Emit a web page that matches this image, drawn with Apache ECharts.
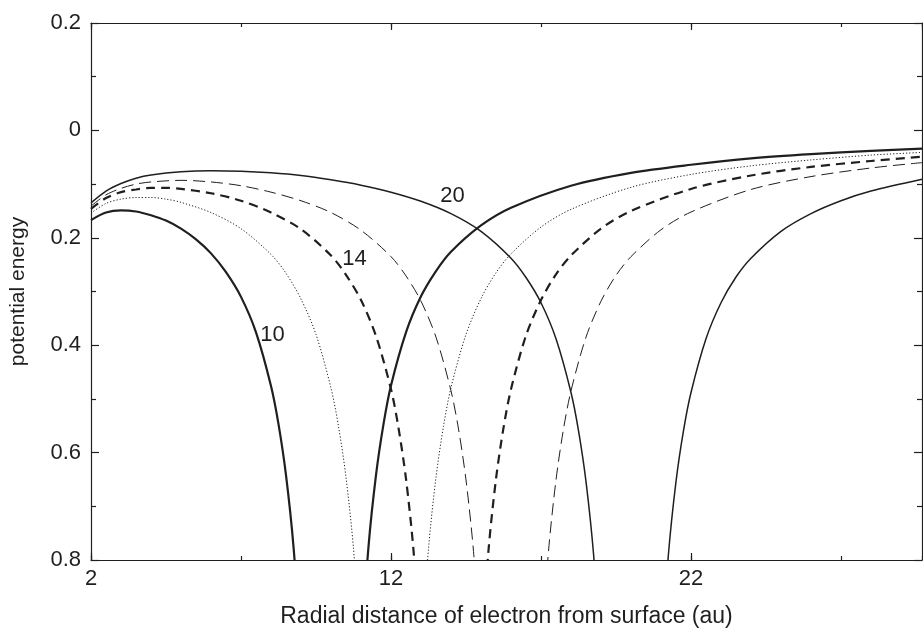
<!DOCTYPE html>
<html><head><meta charset="utf-8">
<script src="https://cdn.jsdelivr.net/npm/echarts/dist/echarts.min.js"></script>
<style>html,body{margin:0;padding:0;background:#fff}#c{width:923px;height:633px}</style>
</head><body><div id="c"></div><script>
// ---- data (x = radial distance, y = potential energy) ----
const xTicks = [2, 12, 22];
const yTickLabels = ['0.2', '0', '0.2', '0.4', '0.6', '0.8'];

const d10Left = [[2,-0.167],[2.5,-0.153],[3,-0.149],[3.5,-0.151],[4,-0.158],[4.5,-0.168],[5,-0.183],[5.5,-0.203],[6,-0.229],[6.5,-0.264],[7,-0.310],[7.5,-0.376],[8,-0.476],[8.25,-0.547],[8.5,-0.642],[8.75,-0.775],[9,-0.975]];
const d10Right = [[11,-0.975],[11.25,-0.775],[11.5,-0.642],[11.75,-0.547],[12,-0.475],[12.5,-0.376],[13,-0.309],[13.5,-0.262],[14,-0.226],[15,-0.177],[16,-0.144],[18,-0.103],[20,-0.079],[22,-0.064],[24,-0.052],[26,-0.044],[28,-0.038],[29.7,-0.034]];

const d12Left = [[2,-0.154],[2.5,-0.136],[3,-0.128],[3.5,-0.125],[4,-0.125],[4.5,-0.128],[5,-0.134],[6,-0.153],[7,-0.183],[8,-0.231],[8.5,-0.266],[9,-0.314],[9.5,-0.380],[10,-0.480],[10.25,-0.551],[10.5,-0.646],[10.75,-0.779],[11,-0.979]];
const d12Right = [[13,-0.979],[13.25,-0.779],[13.5,-0.646],[13.75,-0.551],[14,-0.479],[14.5,-0.380],[15,-0.313],[15.5,-0.265],[16,-0.230],[17,-0.180],[18,-0.147],[20,-0.106],[22,-0.082],[24,-0.066],[26,-0.055],[28,-0.046],[29.7,-0.041]];

const d14Left = [[2,-0.146],[2.5,-0.126],[3,-0.115],[3.5,-0.110],[4,-0.107],[4.5,-0.107],[5,-0.109],[6,-0.117],[7,-0.131],[8,-0.153],[9,-0.184],[10,-0.233],[10.5,-0.269],[11,-0.316],[11.5,-0.383],[12,-0.482],[12.25,-0.554],[12.5,-0.649],[12.75,-0.782],[13,-0.982]];
const d14Right = [[15,-0.982],[15.25,-0.782],[15.5,-0.649],[15.75,-0.554],[16,-0.482],[16.5,-0.382],[17,-0.316],[17.5,-0.268],[18,-0.233],[19,-0.183],[20,-0.150],[22,-0.109],[24,-0.084],[26,-0.068],[28,-0.057],[29.7,-0.049]];

const d16Left = [[2,-0.141],[2.5,-0.120],[3,-0.108],[3.5,-0.100],[4,-0.096],[5,-0.093],[6,-0.096],[7,-0.103],[8,-0.115],[9,-0.131],[10,-0.153],[11,-0.186],[12,-0.235],[12.5,-0.271],[13,-0.318],[13.5,-0.385],[14,-0.485],[14.25,-0.556],[14.5,-0.651],[14.75,-0.784],[15,-0.984]];
const d16Right = [[17,-0.984],[17.25,-0.784],[17.5,-0.651],[17.75,-0.556],[18,-0.485],[18.5,-0.385],[19,-0.318],[19.5,-0.270],[20,-0.235],[21,-0.185],[22,-0.152],[24,-0.110],[26,-0.086],[28,-0.070],[29.7,-0.060]];

const d20Left = [[2,-0.135],[2.5,-0.113],[3,-0.099],[3.5,-0.089],[4,-0.083],[5,-0.077],[6,-0.075],[7,-0.076],[8,-0.079],[9,-0.084],[10,-0.092],[11,-0.102],[12,-0.115],[13,-0.132],[14,-0.155],[15,-0.188],[16,-0.238],[16.5,-0.274],[17,-0.321],[17.5,-0.388],[18,-0.488],[18.25,-0.559],[18.5,-0.654],[18.75,-0.788],[19,-0.988]];
const d20Right = [[21,-0.988],[21.25,-0.788],[21.5,-0.654],[21.75,-0.559],[22,-0.488],[22.5,-0.388],[23,-0.321],[23.5,-0.273],[24,-0.238],[25,-0.188],[26,-0.155],[27,-0.131],[28,-0.113],[29.7,-0.091]];

// curve annotations: [x, y, text]
const curveLabels = [[8.05,-0.380,'10'],[10.78,-0.240,'14'],[14.05,-0.122,'20']];

// ---- chart ----
const FONT = '"Liberation Sans", Arial, Helvetica, sans-serif';
const INK = '#1f1f1f';
const chart = echarts.init(document.getElementById('c'), null, {renderer:'canvas'});

const styles = {
  s10: {color:INK, width:2.2, type:'solid'},
  s12: {color:INK, width:1, type:[1.2,2]},
  s14: {color:INK, width:2.2, type:[9,6]},
  s16: {color:INK, width:1, type:[12,6]},
  s20: {color:INK, width:1.5, type:'solid'}
};
function line(data, st){
  return {type:'line', data, xAxisIndex:0, yAxisIndex:0, showSymbol:false, symbol:'none',
    smooth:0.3, clip:true, lineStyle:st, silent:true, z:3};
}
const xMin = xTicks[0], xMax = 29.7;
function xAx(pos, interval, len, showLine, labels, name){
  const a = {type:'value', position:pos, min:xMin, max:xMax, interval:interval,
    axisLine:{show:showLine, onZero:false, lineStyle:{color:INK, width:1.2}},
    axisTick:{show:true, inside:true, length:len, lineStyle:{color:INK, width:1.2}},
    axisLabel:{show:labels, fontSize:22, color:INK, fontFamily:FONT, margin:8, showMaxLabel:false,
      formatter: v => (xTicks.indexOf(Math.round(v)) >= 0 && Math.abs(v-Math.round(v))<1e-6) ? String(Math.round(v)) : ''},
    splitLine:{show:false}};
  if (name){ a.name = name; a.nameLocation='middle'; a.nameGap=45;
    a.nameTextStyle={fontSize:23, color:INK, fontFamily:FONT}; }
  return a;
}
function yAx(pos, labels, name){
  const a = {type:'value', position:pos, min:-0.8, max:0.2, interval:0.2,
    axisLine:{show:true, onZero:false, lineStyle:{color:INK, width:1.2}},
    axisTick:{show:true, inside:true, length:8, lineStyle:{color:INK, width:1.2}},
    minorTick:{show:true, splitNumber:2, length:5, lineStyle:{color:INK, width:1.2}},
    axisLabel:{show:labels, fontSize:22, color:INK, fontFamily:FONT, margin:10,
      formatter: v => { const i = Math.round((0.2 - v)/0.2); return yTickLabels[i] ?? ''; }},
    splitLine:{show:false}};
  if (name){ a.name=name; a.nameLocation='middle'; a.nameGap=62; a.nameRotate=90;
    a.nameTextStyle={fontSize:21, color:INK, fontFamily:FONT}; }
  return a;
}

const option = {
  animation:false,
  backgroundColor:'#fff',
  grid:{left:82, right:1, top:23, bottom:59, containLabel:false},
  xAxis:[
    xAx('bottom', 10, 7, true, true, 'Radial distance of electron from surface (au)'),
    xAx('bottom', 5, 4, false, false),
    xAx('top', 10, 7, true, false),
    xAx('top', 5, 4, false, false)
  ],
  yAxis:[ yAx('left', true, 'potential energy'), yAx('right', false) ],
  series:[
    line(d10Left, styles.s10), line(d10Right, styles.s10),
    line(d12Left, styles.s12), line(d12Right, styles.s12),
    line(d14Left, styles.s14), line(d14Right, styles.s14),
    line(d16Left, styles.s16), line(d16Right, styles.s16),
    line(d20Left, styles.s20), line(d20Right, styles.s20),
    {type:'scatter', xAxisIndex:0, yAxisIndex:0, data:curveLabels, symbolSize:1,
     itemStyle:{color:'transparent', opacity:1}, silent:true, z:5,
     label:{show:true, position:'inside', formatter:p=>p.data[2], fontSize:22, color:INK,
       textBorderWidth:0, fontFamily:FONT}}
  ]
};
chart.setOption(option);
</script></body></html>
